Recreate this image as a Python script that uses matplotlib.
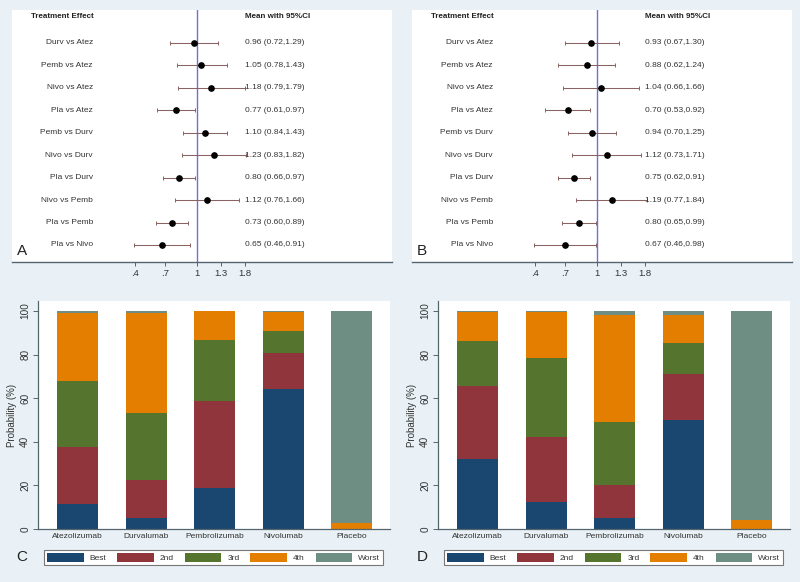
import numpy as np
import matplotlib.pyplot as plt
from matplotlib.ticker import NullLocator

plt.rcParams['font.family'] = ['Liberation Sans', 'DejaVu Sans']

# ------------------- Data -------------------
comparisons = ['Durv vs Atez', 'Pemb vs Atez', 'Nivo vs Atez', 'Pla vs Atez', 'Pemb vs Durv',
               'Nivo vs Durv', 'Pla vs Durv', 'Nivo vs Pemb', 'Pla vs Pemb', 'Pla vs Nivo']

# panel A
mean_a = [0.96, 1.05, 1.18, 0.77, 1.10, 1.23, 0.80, 1.12, 0.73, 0.65]
lo_a = [0.72, 0.78, 0.79, 0.61, 0.84, 0.83, 0.66, 0.76, 0.60, 0.46]
hi_a = [1.29, 1.43, 1.79, 0.97, 1.43, 1.82, 0.97, 1.66, 0.89, 0.91]

# panel B
mean_b = [0.93, 0.88, 1.04, 0.70, 0.94, 1.12, 0.75, 1.19, 0.80, 0.67]
lo_b = [0.67, 0.62, 0.66, 0.53, 0.70, 0.73, 0.62, 0.77, 0.65, 0.46]
hi_b = [1.30, 1.24, 1.66, 0.92, 1.25, 1.71, 0.91, 1.84, 0.99, 0.98]

# forest x-axis ticks (as placed in the original)
xtick_pos = [0.466, 0.674, 1.0, 1.336, 1.79]
xtick_lab = ['.4', '.7', '1', '1.3', '1.8']

drugs = ['Atezolizumab', 'Durvalumab', 'Pembrolizumab', 'Nivolumab', 'Placebo']
ranks = ['Best', '2nd', '3rd', '4th', 'Worst']

# panel C (rank probabilities, %)
best_c = [11.5, 4.9, 18.8, 64.3, 0.0]
second_c = [25.9, 17.4, 40.1, 16.3, 0.0]
third_c = [30.5, 31.1, 27.8, 10.4, 0.0]
fourth_c = [31.0, 45.5, 13.3, 8.7, 2.7]
worst_c = [1.1, 1.1, 0.0, 0.3, 97.3]

# panel D
best_d = [32.2, 12.2, 5.0, 50.1, 0.0]
second_d = [33.3, 29.9, 15.3, 21.0, 0.0]
third_d = [20.8, 36.2, 29.0, 14.2, 0.0]
fourth_d = [13.4, 21.4, 48.7, 12.7, 4.0]
worst_d = [0.3, 0.3, 2.0, 2.0, 96.0]

rank_colors = ['#1a476f', '#90353b', '#55752f', '#e37e00', '#6e8e84']
bg = '#e9f1f6'
axis_col = '#55656e'

W, H = 800, 582
fig = plt.figure(figsize=(W / 100, H / 100), dpi=100, facecolor=bg)


def box(x0, y0, x1, y1):
    # pixel box (top-left origin) -> figure fraction rect
    return [x0 / W, 1 - y1 / H, (x1 - x0) / W, (y1 - y0) / H]


# ------------------- Forest plots -------------------
def forest(ax, mean, lo, hi, letter):
    y = np.arange(len(comparisons))
    ax.set_facecolor('white')
    ax.set_xscale('log')
    ax.set_xlim(0.1035, 10.84)
    ax.set_ylim(9.76, -1.47)
    ax.axvline(1, color='#6e6ee0', lw=1.0, zorder=1)
    xerr = [np.subtract(mean, lo), np.subtract(hi, mean)]
    ax.errorbar(mean, y, xerr=xerr, fmt='o', color='black', ms=3.8,
                ecolor='#8a6262', elinewidth=0.75, capsize=1.3, capthick=0.7, zorder=3)
    tr = ax.get_yaxis_transform()
    for yi, name, m, l, h in zip(y, comparisons, mean, lo, hi):
        ax.text(0.213, yi, name, transform=tr, ha='right', va='center', fontsize=6, color='#333333')
        ax.text(0.613, yi, f'{m:.2f} ({l:.2f},{h:.2f})', transform=tr, ha='left', va='center',
                fontsize=6, color='#333333')
    ax.text(0.05, -1.2, 'Treatment Effect', transform=tr, ha='left', va='center', fontsize=5.8,
            fontweight='bold', color='#222222')
    ax.text(0.613, -1.2, 'Mean with 95%CI', transform=tr, ha='left', va='center', fontsize=5.8,
            fontweight='bold', color='#222222')
    ax.text(0.013, 9.25, letter, transform=tr, ha='left', va='center', fontsize=11, color='#222222')
    ax.xaxis.set_minor_locator(NullLocator())
    ax.set_xticks(xtick_pos, xtick_lab)
    ax.set_yticks([])
    for s in ['top', 'left', 'right']:
        ax.spines[s].set_visible(False)
    ax.spines['bottom'].set_color(axis_col)
    ax.spines['bottom'].set_linewidth(1.0)
    ax.tick_params(axis='x', length=3, width=0.7, color=axis_col, labelsize=6.8, pad=2,
                   labelcolor='#333333')


ax_a = fig.add_axes(box(12, 10, 392, 262))
forest(ax_a, mean_a, lo_a, hi_a, 'A')
ax_b = fig.add_axes(box(412, 10, 792, 262))
forest(ax_b, mean_b, lo_b, hi_b, 'B')


# ------------------- Rank probability bars -------------------
def ranking(ax, series, letter, lx):
    x = np.arange(len(drugs))
    bottom = np.zeros(len(drugs))
    handles = []
    for vals, col, lab in zip(series, rank_colors, ranks):
        b = ax.bar(x, vals, bottom=bottom, width=0.6, color=col, label=lab, zorder=2)
        handles.append(b)
        bottom += np.array(vals)
    ax.set_facecolor('white')
    ax.set_xlim(-0.577, 4.56)
    ax.set_ylim(0, 104.6)
    ax.set_xticks(x, drugs)
    ax.set_yticks([0, 20, 40, 60, 80, 100])
    ax.tick_params(axis='x', length=0, labelsize=6, pad=3, labelcolor='#333333')
    ax.tick_params(axis='y', length=3.6, width=0.7, color=axis_col, labelsize=7.2, pad=2,
                   labelrotation=90, labelcolor='#333333')
    for t in ax.get_yticklabels():
        t.set_va('center')
    ax.set_ylabel('Probability (%)', fontsize=7, color='#333333')
    ax.yaxis.set_label_coords(-0.06, 0.5)
    for s in ['top', 'right']:
        ax.spines[s].set_visible(False)
    for s in ['left', 'bottom']:
        ax.spines[s].set_color(axis_col)
        ax.spines[s].set_linewidth(0.9)
    # legend below the plot
    x0 = lx + 40
    leg = fig.legend(handles, ranks, loc='center', ncol=5, mode='expand',
                     bbox_to_anchor=(x0 / W, 1 - 567 / H, 347 / W, 19 / H),
                     fontsize=6, handlelength=4.4, handleheight=1.2, handletextpad=0.7,
                     borderpad=0.35, fancybox=False, edgecolor='#777777', framealpha=1)
    leg.get_frame().set_linewidth(0.8)
    for t in leg.get_texts():
        t.set_color('#333333')
    fig.text((lx + 22) / W, 1 - 557 / H, letter, ha='center', va='center', fontsize=11, color='#222222')


ax_c = fig.add_axes(box(38, 301, 390, 529))
ranking(ax_c, [best_c, second_c, third_c, fourth_c, worst_c], 'C', 0)
ax_d = fig.add_axes(box(438, 301, 790, 529))
ranking(ax_d, [best_d, second_d, third_d, fourth_d, worst_d], 'D', 400)

fig.savefig('out.png', dpi=100, facecolor=bg)
